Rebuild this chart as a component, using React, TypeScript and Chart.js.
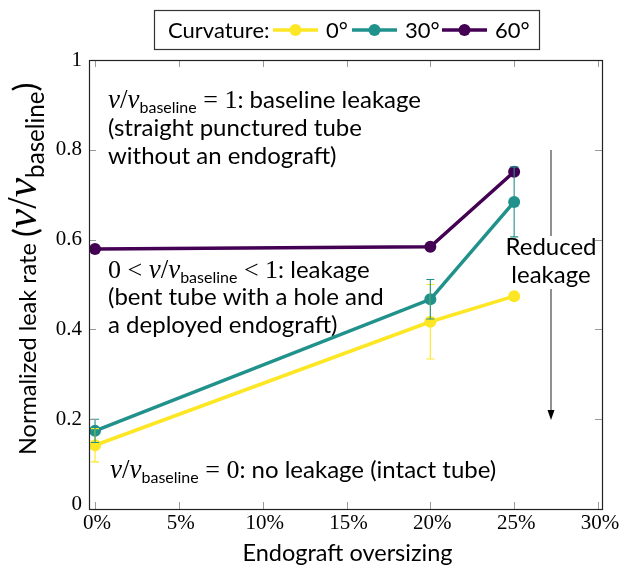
import React, { useEffect, useRef } from "react";
import { Chart, registerables } from "chart.js";
Chart.register(...registerables);

const oversizing = [0, 20, 25];
const curvatureLabels = ["0°", "30°", "60°"];
const leak0 = [0.142, 0.417, 0.474];
const leak30 = [0.174, 0.467, 0.684];
const leak60 = [0.579, 0.584, 0.751];
const err0 = [0.037, 0.083, 0];
const err30 = [0.026, 0.044, 0.078];
const err60 = [0, 0, 0];
const xTicks = [0, 5, 10, 15, 20, 25, 30];
const xTickLabels = ["0%", "5%", "10%", "15%", "20%", "25%", "30%"];
const yTicks = [0, 0.2, 0.4, 0.6, 0.8, 1];
const yTickLabels = ["0", "0.2", "0.4", "0.6", "0.8", "1"];
const colors = ["#fde725", "#21918c", "#440154"];

const SANS = "Lato, 'Open Sans', sans-serif";
const SERIF = "'Liberation Serif', serif";
const sans = (s: number) => `${s}px ${SANS}`;
const serif = (s: number) => `${s}px ${SERIF}`;
const iserif = (s: number) => `italic ${s}px ${SERIF}`;

type Run = { t: string; f: string; dy?: number };

function runsWidth(ctx: CanvasRenderingContext2D, runs: Run[]) {
  let w = 0;
  for (const r of runs) {
    ctx.font = r.f;
    w += ctx.measureText(r.t).width;
  }
  return w;
}

function drawRuns(ctx: CanvasRenderingContext2D, x: number, y: number, runs: Run[]) {
  let cx = x;
  ctx.textBaseline = "alphabetic";
  ctx.textAlign = "left";
  for (const r of runs) {
    ctx.font = r.f;
    ctx.fillText(r.t, cx, y + (r.dy || 0));
    cx += ctx.measureText(r.t).width;
  }
  return cx - x;
}

const vv = (size: number, subScale = 0.68): Run[] => [
  { t: "v", f: iserif(size + 3) },
  { t: "/", f: serif(size + 3) },
  { t: "v", f: iserif(size + 3) },
  { t: "baseline", f: sans(Math.round(size * subScale)), dy: Math.round(size * 0.22) },
];

const overlay = {
  id: "overlay",
  beforeDatasetsDraw(chart: any) {
    const ctx: CanvasRenderingContext2D = chart.ctx;
    const fs = 24;
    ctx.save();
    ctx.fillStyle = "#000";
    drawRuns(ctx, 108, 108, [...vv(fs), { t: " = 1", f: serif(fs + 2) }, { t: ": baseline leakage", f: sans(fs) }]);
    drawRuns(ctx, 108, 136, [{ t: "(straight punctured tube", f: sans(fs) }]);
    drawRuns(ctx, 108, 164, [{ t: "without an endograft)", f: sans(fs) }]);
    drawRuns(ctx, 108, 278, [{ t: "0 < ", f: serif(fs + 2) }, ...vv(fs), { t: " < 1", f: serif(fs + 2) }, { t: ": leakage", f: sans(fs) }]);
    drawRuns(ctx, 108, 305, [{ t: "(bent tube with a hole and", f: sans(fs) }]);
    drawRuns(ctx, 108, 333, [{ t: "a deployed endograft)", f: sans(fs) }]);
    drawRuns(ctx, 110, 478, [...vv(fs), { t: " = 0", f: serif(fs + 2) }, { t: ": no leakage (intact tube)", f: sans(fs) }]);

    const ax = 551;
    ctx.strokeStyle = "#555";
    ctx.lineWidth = 1.3;
    ctx.beginPath();
    ctx.moveTo(ax, 150);
    ctx.lineTo(ax, 236);
    ctx.moveTo(ax, 289);
    ctx.lineTo(ax, 412);
    ctx.stroke();
    ctx.fillStyle = "#000";
    ctx.beginPath();
    ctx.moveTo(ax, 420);
    ctx.lineTo(ax - 3.5, 410);
    ctx.lineTo(ax + 3.5, 410);
    ctx.closePath();
    ctx.fill();
    ctx.font = sans(fs);
    ctx.textAlign = "center";
    ctx.textBaseline = "alphabetic";
    ctx.fillText("Reduced", ax, 255);
    ctx.fillText("leakage", ax, 283);
    ctx.restore();
  },
  afterDatasetsDraw(chart: any) {
    const ctx: CanvasRenderingContext2D = chart.ctx;
    const xs = chart.scales.x;
    const ys = chart.scales.y;
    const series = [
      { v: leak0, e: err0 },
      { v: leak30, e: err30 },
      { v: leak60, e: err60 },
    ];
    ctx.save();
    ctx.lineWidth = 1.1;
    series.forEach((s, si) => {
      ctx.strokeStyle = colors[si];
      oversizing.forEach((xv, i) => {
        if (!s.e[i]) return;
        const px = xs.getPixelForValue(xv);
        const top = ys.getPixelForValue(s.v[i] + s.e[i]);
        const bot = ys.getPixelForValue(s.v[i] - s.e[i]);
        ctx.beginPath();
        ctx.moveTo(px, top);
        ctx.lineTo(px, bot);
        ctx.moveTo(px - 4, top);
        ctx.lineTo(px + 4, top);
        ctx.moveTo(px - 4, bot);
        ctx.lineTo(px + 4, bot);
        ctx.stroke();
      });
    });
    ctx.restore();
  },
  afterDraw(chart: any) {
    const ctx: CanvasRenderingContext2D = chart.ctx;
    const { left, right, top, bottom } = chart.chartArea;
    const xs = chart.scales.x;
    const ys = chart.scales.y;
    ctx.save();
    ctx.strokeStyle = "#999";
    ctx.lineWidth = 1;
    const tl = 7;
    ctx.beginPath();
    xTicks.forEach((t) => {
      const px = Math.round(xs.getPixelForValue(t)) + 0.5;
      ctx.moveTo(px, bottom);
      ctx.lineTo(px, bottom - tl);
      ctx.moveTo(px, top);
      ctx.lineTo(px, top + tl);
    });
    yTicks.forEach((t) => {
      const py = Math.round(ys.getPixelForValue(t)) + 0.5;
      ctx.moveTo(left, py);
      ctx.lineTo(left + tl, py);
      ctx.moveTo(right, py);
      ctx.lineTo(right - tl, py);
    });
    ctx.stroke();
    ctx.strokeStyle = "#222";
    ctx.lineWidth = 1.2;
    ctx.strokeRect(Math.round(left) + 0.5, Math.round(top) + 0.5, Math.round(right - left), Math.round(bottom - top));

    ctx.fillStyle = "#000";
    ctx.font = serif(21);
    ctx.textAlign = "right";
    ctx.textBaseline = "middle";
    yTicks.forEach((t, i) => {
      let py = ys.getPixelForValue(t);
      if (t === 0) py -= 5;
      ctx.fillText(yTickLabels[i], left - 7, py);
    });
    ctx.textAlign = "center";
    ctx.textBaseline = "top";
    xTicks.forEach((t, i) => {
      ctx.fillText(xTickLabels[i], xs.getPixelForValue(t) + 2, bottom + 4);
    });

    ctx.font = sans(23.5);
    ctx.textBaseline = "alphabetic";
    ctx.fillText("Endograft oversizing", (left + right) / 2 + 2, 561);

    // y title
    const plain: Run[] = [{ t: "Normalized leak rate ", f: sans(23.5) }];
    const math: Run[] = [
      { t: "(", f: sans(29), dy: 1 },
      { t: "v", f: iserif(38) },
      { t: "/", f: serif(36) },
      { t: "v", f: iserif(38) },
      { t: "baseline", f: sans(21), dy: 7 },
      { t: ")", f: sans(29), dy: 1 },
    ];
    const startY = 455;
    const endY = 62;
    ctx.save();
    ctx.translate(36, startY);
    ctx.rotate(-Math.PI / 2);
    const pw = drawRuns(ctx, 0, 0, plain);
    const mw = runsWidth(ctx, math);
    const k = Math.max(0.85, Math.min(1.15, (startY - endY - pw) / mw));
    ctx.translate(pw, 0);
    ctx.scale(k, k);
    drawRuns(ctx, 0, 0, math);
    ctx.restore();

    // legend
    const fs = 22;
    const bx = 154.5;
    const bw = 385;
    ctx.strokeStyle = "#333";
    ctx.lineWidth = 1.2;
    ctx.fillStyle = "#fff";
    ctx.fillRect(bx, 10.5, bw, 39);
    ctx.strokeRect(bx, 10.5, bw, 39);
    const ly = 30;
    ctx.fillStyle = "#000";
    ctx.textAlign = "left";
    ctx.textBaseline = "alphabetic";
    ctx.font = sans(fs);
    ctx.fillText("Curvature:", 168, ly + 8);
    const lineStarts = [273, 352, 442];
    const lineLen = 45;
    curvatureLabels.forEach((lab, i) => {
      const x = lineStarts[i];
      ctx.strokeStyle = colors[i];
      ctx.lineWidth = 3.5;
      ctx.beginPath();
      ctx.moveTo(x, ly);
      ctx.lineTo(x + lineLen, ly);
      ctx.stroke();
      ctx.fillStyle = colors[i];
      ctx.beginPath();
      ctx.arc(x + lineLen / 2, ly, 6, 0, Math.PI * 2);
      ctx.fill();
      ctx.fillStyle = "#000";
      ctx.font = sans(fs);
      ctx.fillText(lab, x + lineLen + 8, ly + 8);
    });
    ctx.restore();
  },
};

export default function App() {
  const ref = useRef<HTMLCanvasElement>(null);
  useEffect(() => {
    document.body.style.margin = "0";
    const c = ref.current!;
    const mk = (v: number[], i: number) => ({
      label: curvatureLabels[i],
      data: oversizing.map((x, k) => ({ x, y: v[k] })),
      borderColor: colors[i],
      backgroundColor: colors[i],
      pointBackgroundColor: colors[i],
      pointBorderColor: colors[i],
      borderWidth: 3.5,
      pointRadius: 6,
      pointBorderWidth: 0,
      tension: 0,
      clip: false as any,
      order: 3 - i,
    });
    const chart = new Chart(c, {
      type: "line",
      data: { datasets: [mk(leak0, 0), mk(leak30, 1), mk(leak60, 2)] },
      options: {
        animation: false,
        responsive: false,
        maintainAspectRatio: false,
        layout: { padding: { left: 89, right: 17, top: 60, bottom: 68 } },
        plugins: { legend: { display: false }, tooltip: { enabled: false } },
        scales: {
          x: {
            type: "linear",
            min: -0.36,
            max: 30.24,
            ticks: { display: false },
            grid: { display: false },
            border: { display: false },
            afterFit: (s: any) => { s.height = 0; },
          },
          y: {
            type: "linear",
            min: 0,
            max: 1,
            ticks: { display: false },
            grid: { display: false },
            border: { display: false },
            afterFit: (s: any) => { s.width = 0; },
          },
        },
      },
      plugins: [overlay],
    });
    return () => chart.destroy();
  }, []);
  return <canvas ref={ref} width={619} height={577} style={{ display: "block", background: "#fff" }} />;
}
